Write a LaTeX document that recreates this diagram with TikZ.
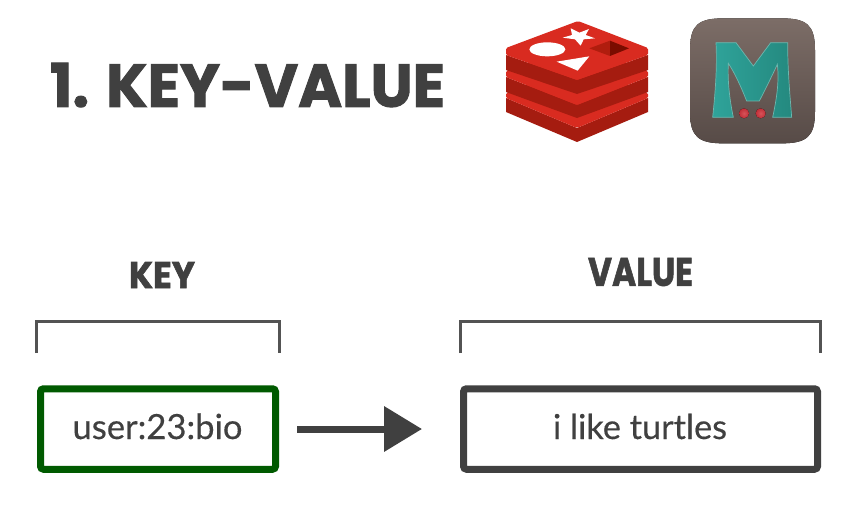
\documentclass[tikz,border=0pt]{standalone}
\usepackage{fontspec}
\usepackage{graphicx}
\setmainfont{Lato}[UprightFeatures={FakeBold=0.35}]
\newfontfamily\headfont{Poppins}[UprightFont=* Bold,UprightFeatures={FakeBold=1.6}]
\usetikzlibrary{arrows.meta,calc}
\definecolor{ink}{HTML}{404040}
\definecolor{keygreen}{HTML}{005A00}
\definecolor{redisface}{HTML}{D92B20}
\definecolor{redisside}{HTML}{A51C10}
\definecolor{redishole}{HTML}{7A0C00}
\definecolor{redismid}{HTML}{B01D0E}
\definecolor{mteal}{HTML}{2FA39A}
\definecolor{mtealdark}{HTML}{24897F}
\definecolor{medge}{HTML}{6DB7AE}
\definecolor{mtop}{HTML}{7C6D67}
\definecolor{mbottom}{HTML}{574B47}
\definecolor{mdot}{HTML}{D0353C}
\definecolor{mdotdark}{HTML}{C02F38}
\tikzset{
  x=1pt,y=-1pt,
  heading/.style={inner sep=0pt,outer sep=0pt,text=ink,font=\headfont},
  valuetext/.style={inner sep=0pt,outer sep=0pt,text=ink,anchor=base},
  databox/.style={draw,line width=7pt,rounded corners=3pt,minimum height=80.5pt,inner sep=0pt,fill=white},
  bracketline/.style={draw=ink!90,line width=3pt},
  flow/.style={draw=ink,line width=7pt,-{Triangle[length=38pt,width=44pt]},shorten <=18pt,shorten >=38pt},
}
% #1 left top, #2 left dark start, #3 left dark end, #4 centre face bottom, #5 centre side bottom
\newcommand{\redislayer}[5]{%
  \fill[redisside] (506,#2) -- (506,#3) -- (577,#5) -- (648,#3) -- (648,#2) -- (577,#4) -- cycle;
  \fill[redisface,rounded corners=1.5pt] (578,#1-27) -- (648,#1) -- (648,#2) -- (577,#4) -- (506,#2) -- (506,#1) -- cycle;}
\begin{document}
\begin{tikzpicture}
\useasboundingbox (0,0) rectangle (857,519);
\fill[white] (0,0) rectangle (857,519);

\node[heading] (title) at (247.5,85) {\resizebox{395pt}{44pt}{1. KEY-VALUE}};
\node[heading] (keylabel) at (162,275) {\resizebox{66pt}{26pt}{KEY}};
\node[heading] (valuelabel) at (640.5,272) {\resizebox{105pt}{28pt}{VALUE}};

% Redis logo
\redislayer{93}{98}{112}{128}{142}
\redislayer{71}{77}{92}{105}{118}
\redislayer{48}{55}{70}{80}{94}
\begin{scope}[shift={(490,5)},scale=1/3]
  \fill[white] (172,133) ellipse [x radius=54,y radius=21];
  \fill[white] (242,70) -- (268,83) -- (297,72) -- (287,90) -- (315,100) -- (281,103) -- (272,122) -- (255,103) -- (218,98) -- (246,90) -- cycle;
  \fill[white] (298,154) -- (263,197) -- (200,170) -- cycle;
  \fill[redismid] (298,130) -- (360,107) -- (360,153) -- cycle;
  \fill[redishole] (360,107) -- (417,130) -- (360,153) -- cycle;
\end{scope}

% Memcached logo
\begin{scope}[shift={(490,5)},scale=1/3]
  \fill[top color=mtop,bottom color=mbottom]
    (700,40) .. controls (625,40) and (600,60) .. (600,135)
    -- (600,320) .. controls (600,395) and (625,415) .. (700,415)
    -- (875,415) .. controls (950,415) and (975,395) .. (975,320)
    -- (975,135) .. controls (975,60) and (950,40) .. (875,40) -- cycle;
  \draw[medge,line width=0.7pt,left color=mteal,right color=mtealdark]
    (678,113) -- (738,113) -- (790,183) -- (842,113) -- (893,113)
    .. controls (893,200) and (900,270) .. (905,337) -- (848,337)
    .. controls (860,280) and (868,230) .. (862,178)
    .. controls (845,215) and (825,255) .. (808,288) -- (770,288)
    .. controls (755,250) and (735,205) .. (715,175)
    .. controls (712,230) and (720,290) .. (730,337) -- (668,337)
    .. controls (675,270) and (682,190) .. (678,113) -- cycle;
  \fill[inner color=mdot!85!white,outer color=mdotdark] (762,325) circle [radius=15];
  \fill[inner color=mdot!85!white,outer color=mdotdark] (812,325) circle [radius=15];
\end{scope}

% Brackets
\coordinate (kbl) at (36,353);
\coordinate (kbr) at (279,353);
\coordinate (vbl) at (460,353);
\coordinate (vbr) at (820.5,353);
\draw[bracketline] (kbl) -- (36,321) -- (279,321) -- (kbr);
\draw[bracketline] (vbl) -- (460,321) -- (820.5,321) -- (vbr);

% Boxes and connector
\node[databox,draw=keygreen,minimum width=235pt] (keybox) at (158,429) {};
\node[databox,draw=ink,minimum width=354pt] (valbox) at (640.5,429) {};
\draw[flow] (keybox) -- (valbox);
\node[valuetext] (keytext) at (157.5,439) {\resizebox{170pt}{!}{user:23:bio}};
\node[valuetext] (valtext) at (640,439) {\resizebox{174pt}{!}{i like turtles}};
\end{tikzpicture}
\end{document}
